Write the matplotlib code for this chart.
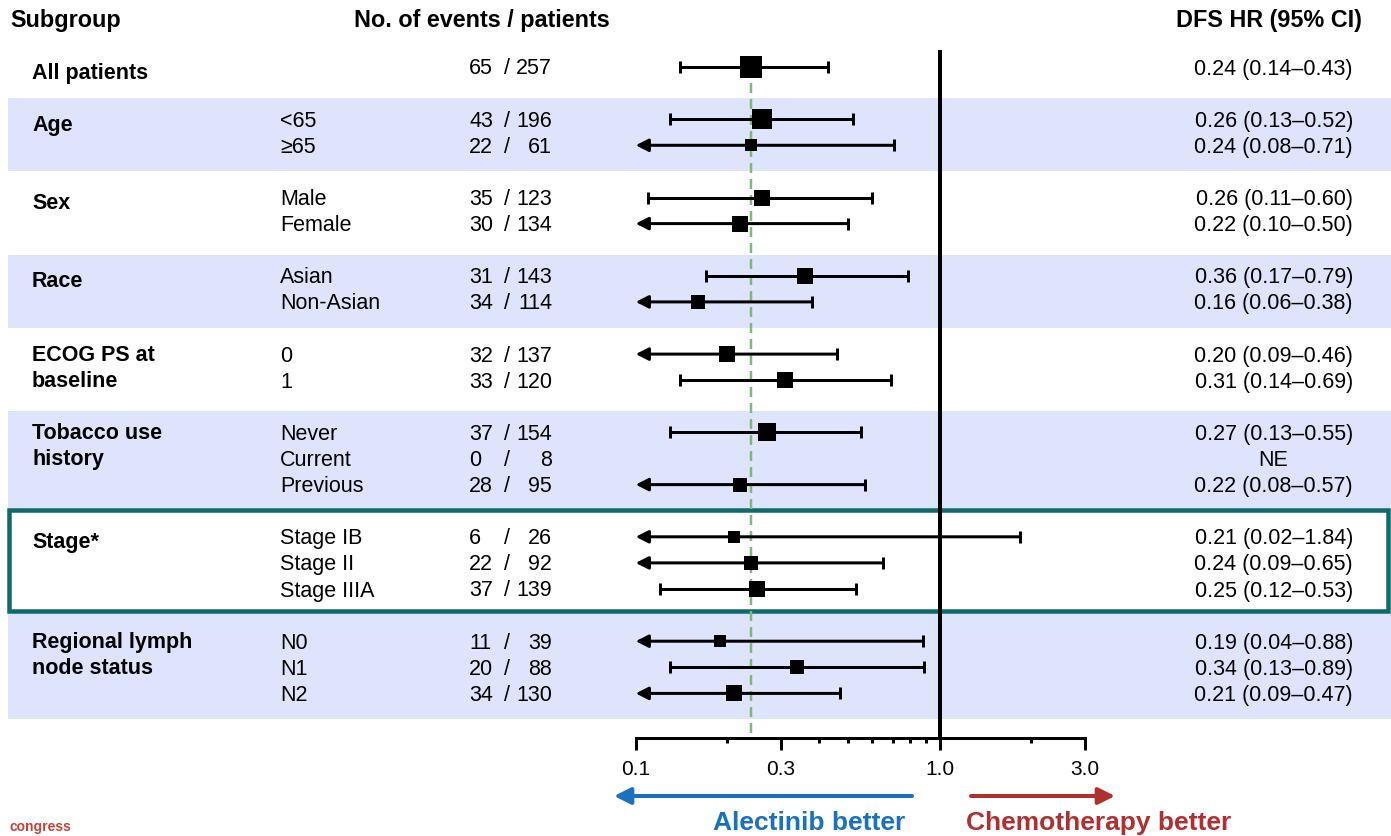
import matplotlib
matplotlib.use("Agg")
import matplotlib.pyplot as plt
import numpy as np
from matplotlib.patches import Rectangle

plt.rcParams["font.family"] = ["Liberation Sans", "DejaVu Sans"]

# ---- data ----
groups = ["All patients", "Age", "Sex", "Race", "ECOG PS at\nbaseline",
          "Tobacco use\nhistory", "Stage*", "Regional lymph\nnode status"]
subgroups = [[""], ["<65", "≥65"], ["Male", "Female"], ["Asian", "Non-Asian"],
             ["0", "1"], ["Never", "Current", "Previous"],
             ["Stage IB", "Stage II", "Stage IIIA"], ["N0", "N1", "N2"]]
events = [65, 43, 22, 35, 30, 31, 34, 32, 33, 37, 0, 28, 6, 22, 37, 11, 20, 34]
patients = [257, 196, 61, 123, 134, 143, 114, 137, 120, 154, 8, 95, 26, 92, 139, 39, 88, 130]
hr = [0.24, 0.26, 0.24, 0.26, 0.22, 0.36, 0.16, 0.20, 0.31, 0.27, np.nan, 0.22,
      0.21, 0.24, 0.25, 0.19, 0.34, 0.21]
ci_low = [0.14, 0.13, 0.08, 0.11, 0.10, 0.17, 0.06, 0.09, 0.14, 0.13, np.nan, 0.08,
          0.02, 0.09, 0.12, 0.04, 0.13, 0.09]
ci_high = [0.43, 0.52, 0.71, 0.60, 0.50, 0.79, 0.38, 0.46, 0.69, 0.55, np.nan, 0.57,
           1.84, 0.65, 0.53, 0.88, 0.89, 0.47]
overall_hr = 0.24
shaded_groups = [1, 3, 5, 7]
boxed_group = 6
tick_values = [0.1, 0.3, 1.0, 3.0]
tick_labels = ["0.1", "0.3", "1.0", "3.0"]

# ---- layout (pixels, y downwards) ----
W, H = 1391, 836
fig = plt.figure(figsize=(W / 100, H / 100), dpi=100)
bg = fig.add_axes([0, 0, 1, 1])
bg.set_xlim(0, W)
bg.set_ylim(H, 0)
bg.axis("off")

x_lo_px, x_hi_px = 635.7, 1084.6
axis_y, top_y = 738, 40
ax = fig.add_axes([x_lo_px / W, (H - axis_y) / H, (x_hi_px - x_lo_px) / W, (axis_y - top_y) / H])
ax.patch.set_visible(False)
ax.set_xscale("log")
ax.set_xlim(0.1, 3.0)
ax.set_ylim(axis_y, top_y)

PX = 0.72  # points per pixel at dpi 100
body = 15.5
blue = "#1a72bf"
red = "#b22f2f"

# row positions
row_y = []
group_rows = []
k = 0
for g, subs in enumerate(subgroups):
    idx = []
    for s in subs:
        row_y.append(67 + 26.1 * k)
        idx.append(len(row_y) - 1)
        k += 1
    group_rows.append(idx)
    k += 1

# bands and box
box_top = row_y[group_rows[boxed_group][0]] - 27
box_bot = row_y[group_rows[boxed_group][-1]] + 22
for g in shaded_groups:
    top = row_y[group_rows[g][0]] - 21
    bot = row_y[group_rows[g][-1]] + 26
    if g - 1 == boxed_group:
        top = box_bot
    bg.add_patch(Rectangle((8, top), W - 8, bot - top, color="#dde4fb", lw=0, zorder=0))
bg.add_patch(Rectangle((8.5, box_top), 1388 - 8.5, box_bot - box_top, fill=False,
                       ec="#10696c", lw=4.5 * PX, zorder=1))

# headers
bg.text(10, 21, "Subgroup", fontsize=16.8, fontweight="bold", va="center")
bg.text(481.7, 21, "No. of events / patients", fontsize=16.8, fontweight="bold",
        va="center", ha="center")
bg.text(1361.7, 21, "DFS HR (95% CI)", fontsize=16.8, fontweight="bold",
        va="center", ha="right")

# text columns
for g, name in enumerate(groups):
    lines = name.split("\n")
    y0 = row_y[group_rows[g][0]] + (6 if len(lines) == 1 else 1)
    for i, line in enumerate(lines):
        bg.text(32, y0 + 26.1 * i, line, fontsize=body, fontweight="bold", va="center")
    for j, r in enumerate(group_rows[g]):
        ty = row_y[r] + 2
        bg.text(280, ty, subgroups[g][j], fontsize=body, va="center")
        bg.text(469, ty, str(events[r]), fontsize=body, va="center")
        bg.text(507, ty, "/", fontsize=body, va="center", ha="center")
        bg.text(552, ty, str(patients[r]), fontsize=body, va="center", ha="right")
        if np.isnan(hr[r]):
            bg.text(1273, ty, "NE", fontsize=body, va="center", ha="center")
        else:
            bg.text(1353, ty, f"{hr[r]:.2f} ({ci_low[r]:.2f}\u2013{ci_high[r]:.2f})",
                    fontsize=body, va="center", ha="right")

# forest marks
lw = 3 * PX
ax.vlines(1.0, 50, axis_y, color="black", lw=4 * PX, zorder=2)
ax.vlines(overall_hr, 67, axis_y, color="#7dba7a", lw=2.5 * PX,
          linestyles=(0, (4, 2.4)), zorder=1)
for r, y in enumerate(row_y):
    if np.isnan(hr[r]):
        continue
    if ci_low[r] <= 0.1:
        ax.annotate("", xy=(0.1, y), xytext=(ci_high[r], y),
                    arrowprops=dict(arrowstyle="-|>,head_length=0.75,head_width=0.38",
                                    lw=lw, color="black", shrinkA=0, shrinkB=0,
                                    mutation_scale=10), zorder=3)
    else:
        ax.hlines(y, ci_low[r], ci_high[r], color="black", lw=lw, zorder=3)
        ax.vlines(ci_low[r], y - 6, y + 6, color="black", lw=lw, zorder=3)
    ax.vlines(ci_high[r], y - 6, y + 6, color="black", lw=lw, zorder=3)
    side = max(11.5, 22.5 * np.sqrt(patients[r] / patients[0]))
    ax.scatter([hr[r]], [y], marker="s", s=(side * PX) ** 2, color="black",
               lw=0, zorder=4)

# x axis
for sp in ["top", "left", "right"]:
    ax.spines[sp].set_visible(False)
ax.spines["bottom"].set_linewidth(3 * PX)
ax.spines["bottom"].set_capstyle("projecting")
ax.set_yticks([])
ax.set_xticks(tick_values)
ax.set_xticklabels(tick_labels)
ax.set_xticks([0.2, 0.4, 0.5, 0.6, 0.7, 0.8, 0.9, 2.0], minor=True)
ax.xaxis.set_minor_formatter(matplotlib.ticker.NullFormatter())
ax.tick_params(axis="x", which="major", direction="out", length=12 * PX,
               width=3 * PX, labelsize=15, pad=7)
ax.tick_params(axis="x", which="minor", direction="out", length=5 * PX, width=3 * PX)

# direction arrows
bg.annotate("", xy=(614, 796), xytext=(912, 796),
            arrowprops=dict(arrowstyle="-|>,head_length=1.0,head_width=0.5", lw=4 * PX,
                            color=blue, shrinkA=0, shrinkB=0, mutation_scale=10))
bg.annotate("", xy=(1115, 796), xytext=(971, 796),
            arrowprops=dict(arrowstyle="-|>,head_length=1.0,head_width=0.5", lw=4 * PX,
                            color=red, shrinkA=0, shrinkB=0, mutation_scale=10))
bg.text(809, 823, "Alectinib better", fontsize=19, fontweight="bold", color=blue,
        ha="center", va="center")
bg.text(1099, 823, "Chemotherapy better", fontsize=19, fontweight="bold", color=red,
        ha="center", va="center")
bg.text(10, 834, "congress", fontsize=10, fontweight="bold", color="#c8423a",
        ha="left", va="bottom")

fig.savefig("out.png", dpi=100)
